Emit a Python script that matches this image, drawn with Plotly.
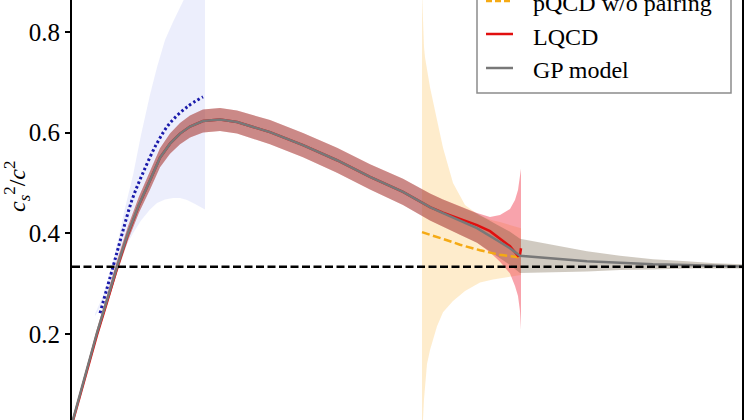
import plotly.graph_objects as go

# ---------------- data ----------------
# GP model: median and band
gp_x = [0.00, 0.13, 0.25, 0.35, 0.45, 0.56, 0.67, 0.78, 0.88, 0.98, 1.08, 1.18, 1.31, 1.48, 1.65,
        1.98, 2.31, 2.65, 2.98, 3.31, 3.58, 3.71, 3.88, 4.05, 4.25, 4.38, 4.48, 4.81, 5.15, 5.48,
        5.81, 6.15, 6.43, 6.70]
gp_mid = [0.022, 0.115, 0.202, 0.267, 0.333, 0.400, 0.457, 0.505, 0.550, 0.578, 0.598, 0.612, 0.623,
          0.626, 0.621, 0.601, 0.575, 0.545, 0.512, 0.482, 0.452, 0.440, 0.425, 0.410, 0.386, 0.370,
          0.355, 0.349, 0.344, 0.341, 0.338, 0.337, 0.335, 0.334]
gp_hi = [0.026, 0.121, 0.210, 0.277, 0.345, 0.414, 0.473, 0.523, 0.569, 0.598, 0.619, 0.634, 0.646,
         0.649, 0.644, 0.625, 0.599, 0.570, 0.537, 0.508, 0.479, 0.467, 0.453, 0.439, 0.417, 0.403,
         0.389, 0.376, 0.364, 0.355, 0.348, 0.344, 0.340, 0.338]
gp_lo = [0.018, 0.109, 0.194, 0.257, 0.321, 0.386, 0.441, 0.487, 0.531, 0.558, 0.577, 0.590, 0.600,
         0.603, 0.598, 0.577, 0.551, 0.520, 0.487, 0.456, 0.425, 0.413, 0.397, 0.381, 0.355, 0.337,
         0.321, 0.322, 0.324, 0.327, 0.328, 0.330, 0.330, 0.330]

# LQCD: line and band
lq_x = [0.00, 0.13, 0.25, 0.35, 0.45, 0.56, 0.67, 0.78, 0.88, 0.98, 1.08, 1.18, 1.31, 1.48, 1.65,
        1.98, 2.31, 2.65, 2.98, 3.31, 3.58, 3.71, 3.88, 4.05, 4.18, 4.28, 4.38, 4.43, 4.46, 4.48, 4.49]
lq_mid = [0.020, 0.112, 0.198, 0.263, 0.330, 0.398, 0.456, 0.505, 0.550, 0.578, 0.598, 0.612, 0.623,
          0.626, 0.621, 0.601, 0.575, 0.545, 0.512, 0.482, 0.452, 0.441, 0.428, 0.416, 0.404, 0.389,
          0.374, 0.362, 0.355, 0.357, 0.370]
lq_hi = [0.026, 0.121, 0.210, 0.277, 0.345, 0.414, 0.473, 0.523, 0.569, 0.598, 0.619, 0.634, 0.646,
         0.649, 0.644, 0.625, 0.599, 0.570, 0.537, 0.508, 0.479, 0.467, 0.453, 0.440, 0.432, 0.436,
         0.448, 0.466, 0.486, 0.512, 0.528]
lq_lo = [0.018, 0.109, 0.194, 0.257, 0.321, 0.386, 0.441, 0.487, 0.531, 0.558, 0.577, 0.590, 0.600,
         0.603, 0.598, 0.577, 0.551, 0.520, 0.487, 0.456, 0.425, 0.413, 0.397, 0.381, 0.362, 0.343,
         0.320, 0.295, 0.275, 0.245, 0.208]

# low-density band (lavender) and its dotted central curve
lo_band_x = [0.23, 0.31, 0.38, 0.46, 0.53, 0.61, 0.69, 0.78, 0.85, 0.93, 1.01, 1.08, 1.15, 1.23, 1.33]
lo_band_hi = [0.240, 0.275, 0.320, 0.385, 0.450, 0.515, 0.595, 0.675, 0.730, 0.784, 0.820, 0.850,
              0.880, 0.910, 0.940]
lo_band_lo = [0.235, 0.262, 0.295, 0.335, 0.370, 0.400, 0.425, 0.447, 0.460, 0.467, 0.470, 0.470,
              0.466, 0.458, 0.447]
dot_x = [0.28, 0.41, 0.50, 0.60, 0.71, 0.85, 0.98, 1.15, 1.31]
dot_y = [0.241, 0.333, 0.398, 0.466, 0.520, 0.579, 0.619, 0.651, 0.671]

# pQCD band (yellow) and pQCD w/o pairing (dashed)
pq_x = [3.50, 3.51, 3.52, 3.53, 3.55, 3.58, 3.65, 3.71, 3.81, 3.93, 4.08, 4.21, 4.28, 4.38, 4.49]
pq_hi = [0.880, 0.800, 0.770, 0.750, 0.722, 0.690, 0.625, 0.570, 0.500, 0.456, 0.434, 0.425, 0.422,
         0.416, 0.410]
pq_lo = [-0.050, 0.030, 0.070, 0.102, 0.140, 0.168, 0.215, 0.243, 0.265, 0.285, 0.302, 0.308, 0.311,
         0.314, 0.317]
pqnp_x = [3.50, 3.63, 3.75, 3.88, 4.08, 4.28, 4.48]
pqnp_y = [0.402, 0.394, 0.386, 0.377, 0.366, 0.357, 0.352]

# conformal limit
conf_x = [0.0, 6.70]
conf_y = [1 / 3, 1 / 3]

y_ticks = [0.2, 0.4, 0.6, 0.8]
y_ticklabels = ["0.2", "0.4", "0.6", "0.8"]
legend_labels = ["pQCD w/o pairing", "LQCD", "GP model"]

# ---------------- styles ----------------
FONT = "Liberation Serif"
C_LAV = "rgba(110,120,230,0.13)"
C_YEL = "rgba(253,200,110,0.35)"
C_RED_BAND = "rgba(240,50,70,0.45)"
C_GP_BAND = "rgba(100,80,50,0.30)"
C_ORANGE = "rgb(245,170,20)"
C_BLUE = "rgb(25,25,170)"
C_RED = "rgb(225,15,15)"
C_GRAY = "rgb(120,120,120)"


def band(x, lo, hi, color):
    xs = list(x) + list(x)[::-1]
    ys = list(hi) + list(lo)[::-1]
    return go.Scatter(x=xs, y=ys, mode="lines", fill="toself", fillcolor=color,
                      line=dict(width=0), hoverinfo="skip", showlegend=False)


fig = go.Figure()
fig.add_trace(band(lo_band_x, lo_band_lo, lo_band_hi, C_LAV))
fig.add_trace(band(pq_x, pq_lo, pq_hi, C_YEL))
fig.add_trace(band(lq_x, lq_lo, lq_hi, C_RED_BAND))
fig.add_trace(band(gp_x, gp_lo, gp_hi, C_GP_BAND))
fig.add_trace(go.Scatter(x=pqnp_x, y=pqnp_y, mode="lines", showlegend=False,
                         line=dict(color=C_ORANGE, width=2.5, dash="8px,3.5px")))
fig.add_trace(go.Scatter(x=dot_x, y=dot_y, mode="lines", showlegend=False, line_shape="spline",
                         line=dict(color=C_BLUE, width=3, dash="2.5px,2.5px")))
fig.add_trace(go.Scatter(x=lq_x, y=lq_mid, mode="lines", showlegend=False,
                         line=dict(color=C_RED, width=2.5)))
fig.add_trace(go.Scatter(x=gp_x, y=gp_mid, mode="lines", showlegend=False,
                         line=dict(color=C_GRAY, width=2.5)))
fig.add_trace(go.Scatter(x=conf_x, y=conf_y, mode="lines", showlegend=False,
                         line=dict(color="black", width=2.5, dash="8px,3.5px")))

# ---------------- manual legend (partially cut by the top edge) ----------------
L, R = 72, 742
W, H = 744, 420


def px2paper_x(px):
    return (px - L) / (R - L)


def py2paper_y(py):
    return 1 - py / H


shapes = [dict(type="rect", xref="paper", yref="paper",
               x0=px2paper_x(477), x1=px2paper_x(731), y0=py2paper_y(93), y1=py2paper_y(-60),
               line=dict(color="rgb(140,140,140)", width=1.5), fillcolor="white", layer="above")]
sample_styles = [(C_ORANGE, "6px,3px", 1), (C_RED, "solid", 34), (C_GRAY, "solid", 68)]
for color, dash, py in sample_styles:
    shapes.append(dict(type="line", xref="paper", yref="paper",
                       x0=px2paper_x(486), x1=px2paper_x(513), y0=py2paper_y(py), y1=py2paper_y(py),
                       line=dict(color=color, width=2.5, dash=dash), layer="above"))

annotations = []
for label, py in zip(legend_labels, [3, 37, 70]):
    annotations.append(dict(text=label, xref="paper", yref="paper", x=px2paper_x(531),
                            y=py2paper_y(py), xanchor="left", yanchor="middle", showarrow=False,
                            font=dict(family=FONT, size=24, color="black")))
annotations.append(dict(text="<i>c</i><sub><i>s</i></sub><sup>2</sup>/<i>c</i><sup>2</sup>",
                        xref="paper", yref="y", x=px2paper_x(17), y=0.5, yshift=-4,
                        textangle=-90, xanchor="center", yanchor="middle", showarrow=False,
                        font=dict(family=FONT, size=24, color="black")))

fig.update_layout(
    width=W, height=H,
    margin=dict(l=L, r=W - R, t=0, b=0, autoexpand=False),
    paper_bgcolor="white", plot_bgcolor="white",
    shapes=shapes, annotations=annotations,
    font=dict(family=FONT, size=24, color="black"),
    xaxis=dict(range=[0, 6.70], showline=False, showticklabels=False, ticks="",
               showgrid=False, zeroline=False),
    yaxis=dict(range=[0.0286, 0.8636], tickvals=y_ticks, ticktext=y_ticklabels,
               ticks="outside", ticklen=5, tickwidth=2, tickcolor="black",
               showline=True, linewidth=2, linecolor="black", mirror=True,
               showgrid=False, zeroline=False,
               tickfont=dict(family=FONT, size=25, color="black")),
)

fig.write_html("out.html", config={"displayModeBar": False},
               post_script="document.body.style.margin='0';document.body.style.overflow='hidden';")
